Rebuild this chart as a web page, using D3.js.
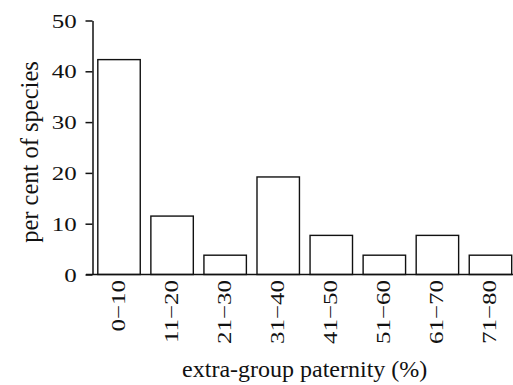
<!DOCTYPE html>
<html>
<head>
<meta charset="utf-8">
<script src="https://cdn.jsdelivr.net/npm/d3@7"></script>
<style>
  body { margin: 0; background: #fff; }
  svg { display: block; }
  svg text { font-family: "Liberation Serif", "Times New Roman", serif; }
</style>
</head>
<body>
<svg id="chart" width="513" height="385"></svg>
<script>
// share of species in each extra-group paternity class (26 species)
const categories = ['0\u221210', '11\u221220', '21\u221230', '31\u221240', '41\u221250', '51\u221260', '61\u221270', '71\u221280'];
const values = [42.3, 11.5, 3.8, 19.2, 7.7, 3.8, 7.7, 3.8];
const yTicks = [0, 10, 20, 30, 40, 50];
const xTitle = 'extra-group paternity (%)';
const yTitle = 'per cent of species';

const svg = d3.select('#chart');
const stretch = 1.28; // tick labels look wider than plain Times

const x = d3.scaleBand()
  .domain(categories)
  .range([92.5, 517])
  .paddingInner(0.2)
  .paddingOuter(0.1);

const y = d3.scaleLinear()
  .domain([0, 50])
  .range([274.5, 20.5]);

// bars
svg.append('g')
  .selectAll('rect')
  .data(values)
  .enter()
  .append('rect')
  .attr('x', (d, i) => x(categories[i]))
  .attr('y', d => y(d))
  .attr('width', x.bandwidth())
  .attr('height', d => y(0) - y(d))
  .attr('fill', '#fff')
  .attr('stroke', '#111')
  .attr('stroke-width', 1.4);

// y axis
const yAxis = svg.append('g')
  .attr('transform', 'translate(92.5,0)')
  .call(d3.axisLeft(y).tickValues(yTicks).tickSize(7).tickSizeOuter(0))
  .attr('font-family', null)
  .attr('font-size', null);
yAxis.select('.domain').attr('stroke', '#111').attr('stroke-width', 1.5);
yAxis.selectAll('.tick line').attr('stroke', '#111').attr('stroke-width', 1.5);
yAxis.selectAll('.tick text')
  .attr('font-size', 19.5)
  .attr('fill', '#111')
  .attr('text-anchor', 'end')
  .attr('x', -15.8 / stretch)
  .attr('dy', null)
  .attr('y', 6.5)
  .attr('transform', `scale(${stretch},1)`);

// x baseline
svg.append('line')
  .attr('x1', 86)
  .attr('x2', x.range()[1])
  .attr('y1', y(0))
  .attr('y2', y(0))
  .attr('stroke', '#111')
  .attr('stroke-width', 1.5);

// x tick labels, rotated
svg.append('g')
  .selectAll('g')
  .data(categories)
  .enter()
  .append('g')
  .attr('transform', d => `translate(${x(d) + x.bandwidth() / 2},${y(0)})`)
  .append('text')
  .attr('transform', `rotate(-90) scale(${stretch},1)`)
  .attr('text-anchor', 'end')
  .attr('x', -5.5 / stretch)
  .attr('y', 6)
  .attr('font-size', 19.5)
  .attr('fill', '#111')
  .text(d => d);

// axis titles
svg.append('text')
  .attr('x', 304.7)
  .attr('y', 376.7)
  .attr('text-anchor', 'middle')
  .attr('font-size', 24)
  .attr('fill', '#111')
  .text(xTitle);

svg.append('text')
  .attr('transform', 'translate(38.3,152) rotate(-90)')
  .attr('text-anchor', 'middle')
  .attr('font-size', 24.5)
  .attr('fill', '#111')
  .text(yTitle);
</script>
</body>
</html>
